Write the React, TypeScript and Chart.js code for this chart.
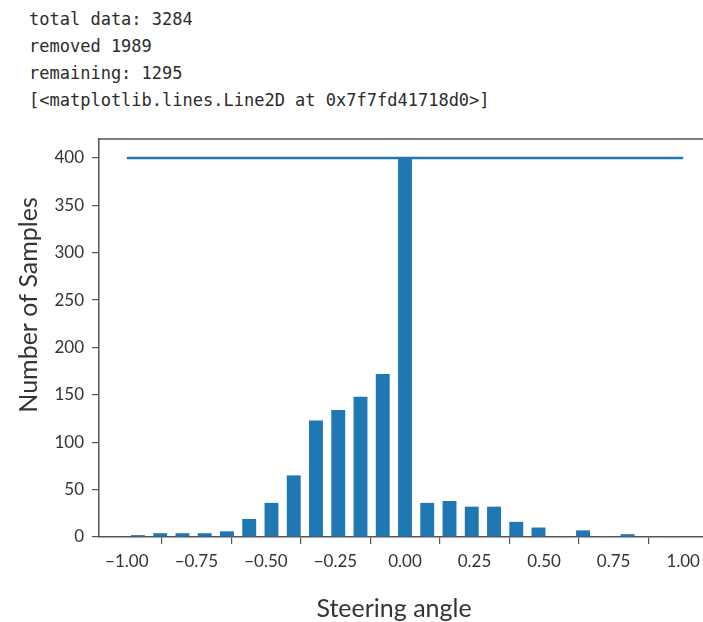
import React, { useEffect, useRef } from "react";
import { Chart, registerables } from "chart.js";

Chart.register(...registerables);

// Histogram of steering angles (25 bins between -1 and 1)
const binCenters = [
  -0.96, -0.88, -0.8, -0.72, -0.64, -0.56, -0.48, -0.4, -0.32, -0.24, -0.16, -0.08,
  0, 0.08, 0.16, 0.24, 0.32, 0.4, 0.48, 0.56, 0.64, 0.72, 0.8, 0.88, 0.96,
];
const sampleCounts = [
  2, 4, 4, 4, 6, 19, 36, 65, 123, 134, 148, 172,
  400, 36, 38, 32, 32, 16, 10, 1, 7, 1, 3, 0, 1,
];
const samplesPerBin = 400;
const lineX = [-1, 1];
const xTicks = [-1, -0.75, -0.5, -0.25, 0, 0.25, 0.5, 0.75, 1];
const yTicks = [0, 50, 100, 150, 200, 250, 300, 350, 400];
const xLabel = "Steering angle";
const yLabel = "Number of Samples";
const outputLines = [
  "total data: 3284",
  "removed 1989",
  "remaining: 1295",
  "[<matplotlib.lines.Line2D at 0x7f7fd41718d0>]",
];

const BLUE = "#1f77b4";
const AXIS = "#555555";
const TEXT = "#333333";
const FONT = "Lato, 'Liberation Sans', sans-serif";

const framePlugin = {
  id: "frame",
  afterDraw(chart: any) {
    const { ctx, chartArea } = chart;
    ctx.save();
    ctx.strokeStyle = AXIS;
    ctx.lineWidth = 1.5;
    ctx.beginPath();
    ctx.moveTo(chartArea.left, chartArea.top);
    ctx.lineTo(chartArea.right, chartArea.top);
    ctx.lineTo(chartArea.right, chartArea.bottom);
    ctx.stroke();

    // axis labels
    ctx.fillStyle = TEXT;
    ctx.font = `25px ${FONT}`;
    ctx.textAlign = "center";
    ctx.textBaseline = "alphabetic";
    ctx.fillText(xLabel, 394, 617);
    ctx.translate(37, 305);
    ctx.rotate(-Math.PI / 2);
    ctx.fillText(yLabel, 0, 0);
    ctx.restore();
  },
};

export default function App() {
  const canvasRef = useRef<HTMLCanvasElement | null>(null);

  useEffect(() => {
    const canvas = canvasRef.current;
    if (!canvas) return;
    const chart = new Chart(canvas, {
      type: "bar",
      data: {
        datasets: [
          {
            type: "line",
            data: lineX.map((x) => ({ x, y: samplesPerBin })),
            borderColor: BLUE,
            borderWidth: 2.5,
            pointRadius: 0,
            order: 0,
          } as any,
          {
            type: "bar",
            data: binCenters.map((x, i) => ({ x, y: sampleCounts[i] })),
            backgroundColor: BLUE,
            borderWidth: 0,
            categoryPercentage: 1,
            barPercentage: 0.625,
            order: 1,
          } as any,
        ],
      },
      options: {
        animation: false,
        responsive: false,
        devicePixelRatio: 1,
        layout: { padding: { left: 0, right: 9, top: 139, bottom: 0 } },
        plugins: { legend: { display: false }, tooltip: { enabled: false } },
        scales: {
          x: {
            type: "linear",
            min: -1.1,
            max: 1.1,
            offset: false,
            afterBuildTicks: (s: any) => {
              s.ticks = xTicks.map((v) => ({ value: v }));
            },
            afterFit: (s: any) => {
              s.height = 85;
            },
            ticks: {
              includeBounds: false,
              autoSkip: false,
              maxRotation: 0,
              padding: 7,
              color: TEXT,
              font: { family: FONT, size: 17 },
              callback: (v: any) =>
                (v < 0 ? "\u2212" : "") + Math.abs(Number(v)).toFixed(2),
            },
            grid: {
              drawOnChartArea: false,
              drawTicks: true,
              tickLength: 7,
              color: AXIS,
              lineWidth: 1.2,
            },
            border: { display: true, color: AXIS, width: 1.5 },
            title: { display: false },
          } as any,
          y: {
            type: "linear",
            min: 0,
            max: 420,
            afterBuildTicks: (s: any) => {
              s.ticks = yTicks.map((v) => ({ value: v }));
            },
            afterFit: (s: any) => {
              s.width = 99;
            },
            ticks: {
              includeBounds: false,
              padding: 8,
              color: TEXT,
              font: { family: FONT, size: 17 },
              callback: (v: any) => String(v),
            },
            grid: {
              drawOnChartArea: false,
              drawTicks: true,
              tickLength: 7,
              color: AXIS,
              lineWidth: 1.2,
            },
            border: { display: true, color: AXIS, width: 1.5 },
            title: { display: false },
          } as any,
        },
      },
      plugins: [framePlugin],
    } as any);
    return () => chart.destroy();
  }, []);

  return (
    <div
      style={{
        position: "fixed",
        left: 0,
        top: 0,
        width: 703,
        height: 622,
        overflow: "hidden",
        background: "#ffffff",
      }}
    >
      <div
        style={{
          position: "absolute",
          left: 29,
          top: 6,
          fontFamily: "'DejaVu Sans Mono', 'Liberation Mono', monospace",
          fontSize: 17,
          lineHeight: "27px",
          color: "#2b2b2b",
          whiteSpace: "pre",
        }}
      >
        {outputLines.map((l, i) => (
          <div key={i}>{l}</div>
        ))}
      </div>
      <canvas
        ref={canvasRef}
        width={720}
        height={622}
        style={{ position: "absolute", left: 0, top: 0, width: 720, height: 622 }}
      />
    </div>
  );
}
